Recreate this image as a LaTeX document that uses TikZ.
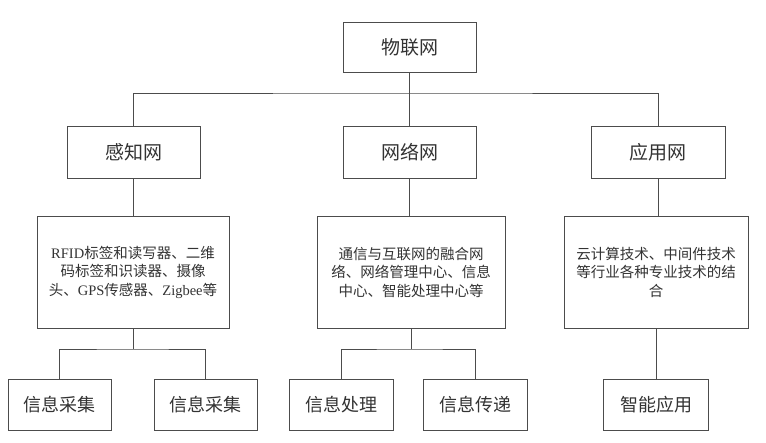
\documentclass[tikz,border=0pt]{standalone}
\usepackage{fontspec}
\setmainfont{Noto Sans CJK SC}
\newfontfamily\latinf{Liberation Serif}
\begin{document}
\begin{tikzpicture}[x=1pt,y=-1pt,
  box/.style={draw=black!70,line width=0.8pt,fill=white,inner sep=0pt,align=center,text=black!80},
  lvl/.style={box,font=\fontsize{19}{22}\selectfont},
  detail/.style={box,font=\fontsize{14.5}{18.5}\selectfont,minimum height=112pt},
  leaf/.style={box,font=\fontsize{18}{22}\selectfont,minimum height=51pt},
  link/.style={draw=black!70,line width=0.8pt}]
\useasboundingbox (0,0) rectangle (766,443);
\fill[white] (0,0) rectangle (766,443);

\node[lvl,minimum width=133pt,minimum height=50pt] (top) at (409.5,47) {物联网};
\node[lvl,minimum width=133pt,minimum height=52pt] (b1) at (133.5,152) {感知网};
\node[lvl,minimum width=133pt,minimum height=52pt] (b2) at (409.5,152) {网络网};
\node[lvl,minimum width=134pt,minimum height=52pt] (b3) at (658,152) {应用网};

\node[detail,minimum width=192pt] (d1) at (133,272)
  {{\latinf RFID}标签和读写器、二维\\码标签和识读器、摄像\\头、{\latinf GPS}传感器、{\latinf Zigbee}等};
\node[detail,minimum width=188pt] (d2) at (411,272)
  {通信与互联网的融合网\\络、网络管理中心、信息\\中心、智能处理中心等};
\node[detail,minimum width=184pt] (d3) at (656,272)
  {云计算技术、中间件技术\\等行业各种专业技术的结\\合};

\node[leaf,minimum width=103pt] (e1) at (59.5,404.5) {信息采集};
\node[leaf,minimum width=103pt] (e2) at (205.5,404.5) {信息采集};
\node[leaf,minimum width=104pt] (e3) at (341,404.5) {信息处理};
\node[leaf,minimum width=104pt] (e4) at (475,404.5) {信息传递};
\node[leaf,minimum width=105pt] (e5) at (656,404.5) {智能应用};

\coordinate (j0) at (409.5,93);
\coordinate (j1) at (133,349);
\coordinate (j2) at (411,349);

\path[link] (top.south) -- (j0);
\path[link] (b1.north) |- (j0) -| (b3.north);
\path[link] (j0) -- (b2.north);

\path[link] (b1.south) -- (b1.south |- d1.north);
\path[link] (b2.south) -- (b2.south |- d2.north);
\path[link] (b3.south) -- (b3.south |- d3.north);

\path[link] (d1.south) -- (j1);
\path[link] (e1.north) |- (j1) -| (e2.north);
\path[link] (d2.south) -- (j2);
\path[link] (e3.north) |- (j2) -| (e4.north);
\path[link] (d3.south) -- (e5.north);
\end{tikzpicture}
\end{document}
